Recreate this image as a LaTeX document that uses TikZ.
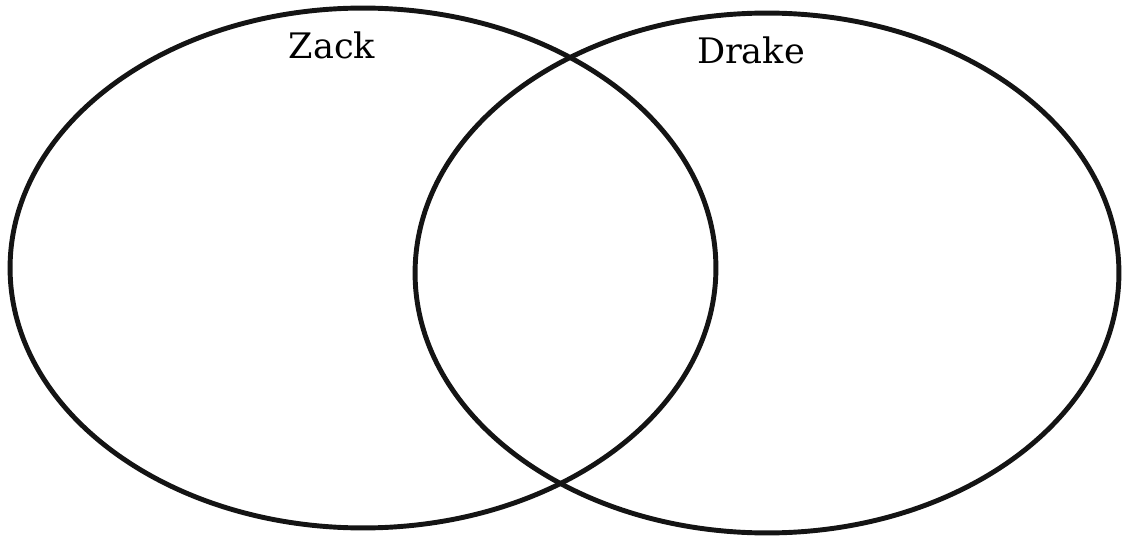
\documentclass[tikz,border=0pt]{standalone}
\usepackage{fontspec}
\setmainfont{DejaVu Serif}
\usetikzlibrary{positioning}
\tikzset{
  setline/.style   = {draw=black!92, line width=2.8pt},
  setname/.style   = {font=\fontsize{20}{22}\selectfont, text=black, inner sep=0pt},
}

\begin{document}
\begin{tikzpicture}[x=0.02cm,y=-0.02cm]
  \useasboundingbox (0,0) rectangle (1123,537);

  % the two sets
  \draw[setline] (363,268) ellipse [x radius=7.06cm, y radius=5.2cm];
  \draw[setline] (767,273) ellipse [x radius=7.04cm, y radius=5.2cm];

  % set names
  \node[setname] (zack)  at (332,45) {Zack};
  \node[setname] (drake) at (751,50) {Drake};
\end{tikzpicture}
\end{document}
